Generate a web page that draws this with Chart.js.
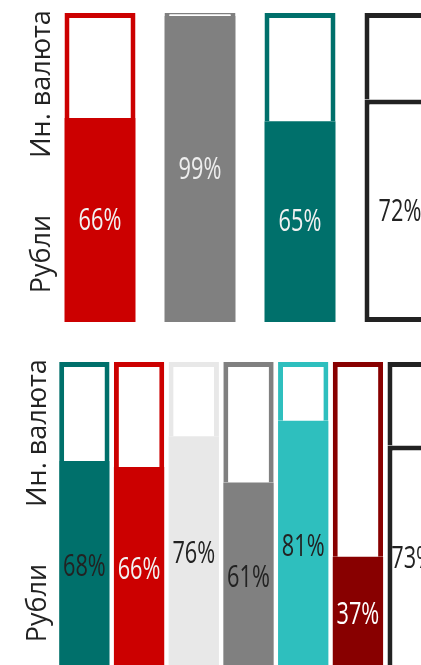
<!DOCTYPE html>
<html>
<head>
<meta charset="utf-8">
<script src="https://cdn.jsdelivr.net/npm/chart.js@4.4.1/dist/chart.umd.min.js"></script>
<style>
	html, body { margin: 0; padding: 0; background: #fff; overflow: hidden; width: 421px; height: 665px; }
	.box { position: absolute; left: 0; }
</style>
</head>
<body>
<div class="box" style="top:0"><canvas id="topChart" width="480" height="340"></canvas></div>
<div class="box" style="top:349px"><canvas id="bottomChart" width="480" height="340"></canvas></div>
<script>
// Доли (%), рубли / иностранная валюта
const topCategories = ["A", "B", "C", "D"];
const topRub = [66, 99, 65, 72];
const topFx = [34, 1, 35, 28];

const bottomCategories = ["A", "B", "C", "D", "E", "F", "G"];
const bottomRub = [68, 66, 76, 61, 81, 37, 73];
const bottomFx = [32, 34, 24, 39, 19, 63, 27];

// подписи слева и где они стоят на шкале
const sideLabels = ["Рубли", "Ин. валюта"];
const sideLabelAt = [22, 77];

// цвета
const topColors = ["#cc0000", "#808080", "#00706b", "#222222"];
const topTextColors = ["#f2f2f2", "#eeeeee", "#f2f2f2", "#222222"];
const bottomColors = ["#00706b", "#cc0000", "#e8e8e8", "#808080", "#2ebfbe", "#880000", "#222222"];
const bottomTextColors = ["#222222", "#f2f2f2", "#222222", "#222222", "#222222", "#ffffff", "#222222"];

const OUTLINE = "#222222";

// Подписи значений и боковые подписи
const barLabels = {
	id: "barLabels",
	afterDatasetsDraw(chart, args, opts) {
		const ctx = chart.ctx;
		const meta = chart.getDatasetMeta(0);
		const values = chart.data.datasets[0].data;
		ctx.save();
		ctx.font = "31px 'Open Sans', sans-serif";
		ctx.textAlign = "center";
		ctx.textBaseline = "middle";
		meta.data.forEach((bar, i) => {
			ctx.save();
			ctx.translate(bar.x, (bar.y + bar.base) / 2 + 1);
			ctx.scale(0.7, 1); // узкий шрифт
			ctx.fillStyle = opts.textColors[i];
			ctx.fillText(values[i] + "%", 0, 0);
			ctx.restore();
		});

		const yScale = chart.scales.y;
		ctx.font = "27px 'Open Sans', sans-serif";
		ctx.fillStyle = "#222";
		ctx.textBaseline = "alphabetic";
		sideLabels.forEach((t, i) => {
			ctx.save();
			ctx.translate(opts.sideX, yScale.getPixelForValue(sideLabelAt[i]));
			ctx.rotate(-Math.PI / 2);
			ctx.fillText(t, 0, 0);
			ctx.restore();
		});
		ctx.restore();
	},
};

function makeChart(id, labels, rub, fx, colors, textColors, barPct, padding, sideX) {
	const ctx = document.getElementById(id).getContext("2d");
	return new Chart(ctx, {
		type: "bar",
		data: {
			labels: labels,
			datasets: [
				{
					label: "Рубли",
					data: rub,
					backgroundColor: colors.map((c) => (c === OUTLINE ? "#ffffff" : c)),
					borderColor: colors,
					borderWidth: colors.map((c) => (c === OUTLINE ? 5 : 0)),
					borderSkipped: false,
				},
				{
					label: "Ин. валюта",
					data: fx,
					backgroundColor: "#ffffff",
					borderColor: colors,
					borderWidth: 5,
					borderSkipped: "start",
				},
			],
		},
		options: {
			responsive: false,
			animation: false,
			layout: { padding: padding },
			datasets: { bar: { barPercentage: barPct, categoryPercentage: 1 } },
			plugins: {
				legend: { display: false },
				tooltip: { enabled: false },
				barLabels: { textColors: textColors, sideX: sideX },
			},
			scales: {
				x: { stacked: true, display: false },
				y: { stacked: true, display: false, min: 0, max: 100 },
			},
		},
		plugins: [barLabels],
	});
}

makeChart("topChart", topCategories, topRub, topFx, topColors, topTextColors, 0.71,
	{ left: 50, right: 30, top: 13, bottom: 18 }, 50);
makeChart("bottomChart", bottomCategories, bottomRub, bottomFx, bottomColors, bottomTextColors, 0.92,
	{ left: 57, right: 40, top: 13, bottom: 18 }, 46);
</script>
</body>
</html>
